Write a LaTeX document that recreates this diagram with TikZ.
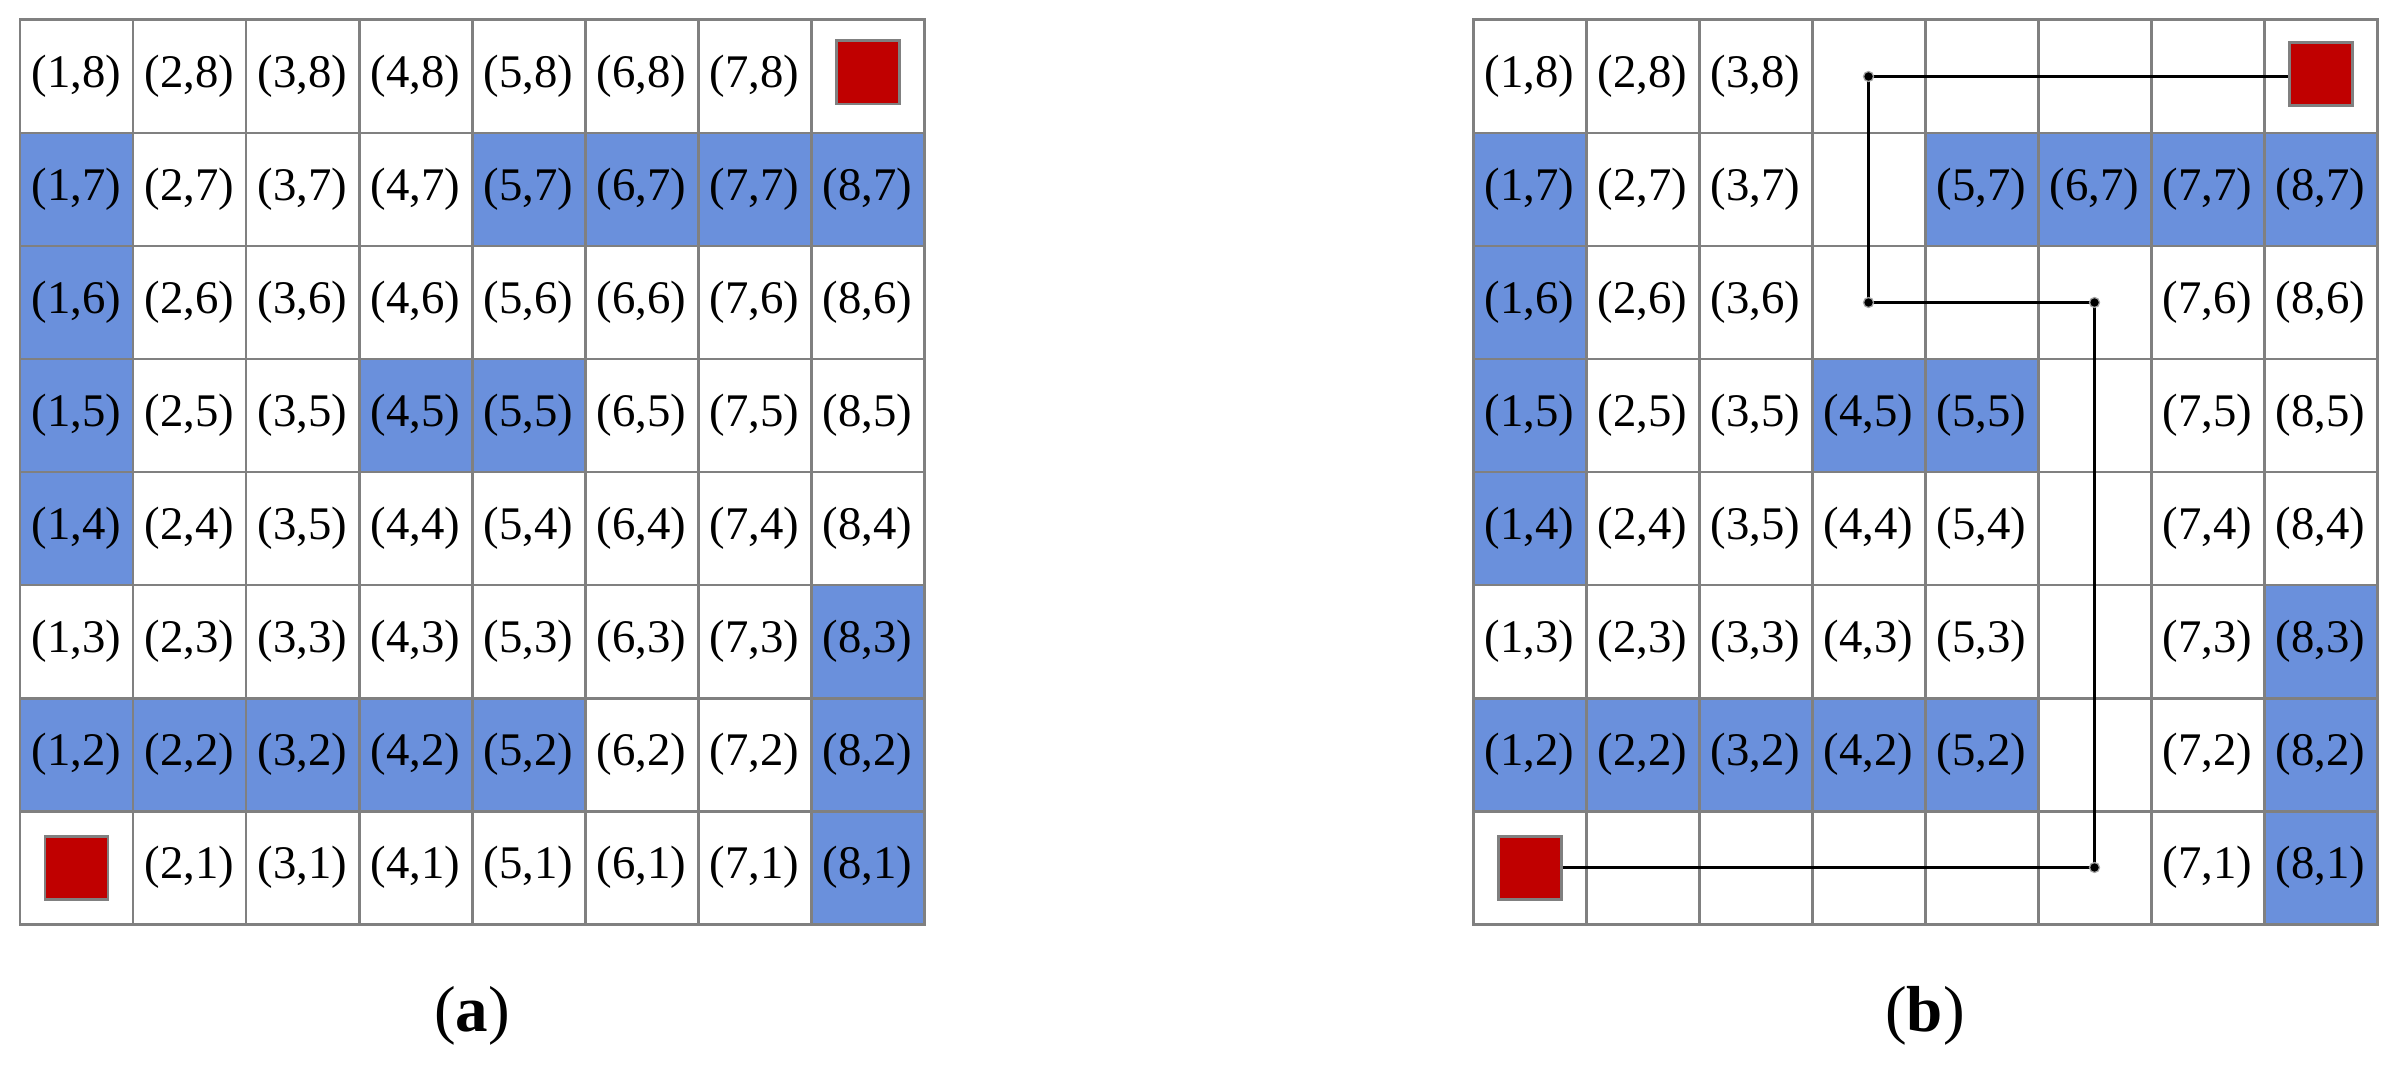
\documentclass[tikz,border=0pt]{standalone}
\usepackage{fontspec}
\setmainfont{Liberation Serif}
\definecolor{cellblue}{RGB}{106,144,220}
\definecolor{gridgray}{RGB}{128,128,128}
\definecolor{goalred}{RGB}{192,0,0}
\tikzset{
  cellbase/.style={draw=gridgray, line width=0.85pt, minimum size=1.13cm, inner sep=0pt, font=\fontsize{13.3}{15}\selectfont},
  cell-w/.style={cellbase, fill=white},
  cell-t/.style={cellbase, fill=white},
  cell-e/.style={cellbase, fill=white},
  cell-r/.style={cellbase, fill=white},
  cell-b/.style={cellbase, fill=cellblue},
  goal/.style={draw=gridgray, fill=goalred, line width=0.85pt, minimum size=0.63cm, inner sep=0pt},
  pathline/.style={black, line width=0.95pt},
  turn/.style={circle, fill=black, draw=gray!70, line width=0.35pt, minimum size=0.1cm, inner sep=0pt},
  caption/.style={font=\fontsize{18.5}{22}\selectfont}
}
\newcommand\gridrow[3]{%
  \def\txtw{(\ci,#2)}\def\txtb{(\ci,#2)}\def\txtt{(3,5)}\def\txte{}\def\txtr{}%
  \foreach \cc [count=\ci] in {#3} {%
    \node[cell-\cc] (#1-\ci-#2) at ({(\ci-0.5)*1.13},{(#2-0.5)*1.13}) {\csname txt\cc\endcsname};
  }%
}
\begin{document}
\begin{tikzpicture}
\useasboundingbox (0,0) rectangle (23.94,10.73);
% ---------- (a) ----------
\begin{scope}[shift={(0.20,1.49)}]
  \gridrow{a}{8}{w,w,w,w,w,w,w,r}
  \gridrow{a}{7}{b,w,w,w,b,b,b,b}
  \gridrow{a}{6}{b,w,w,w,w,w,w,w}
  \gridrow{a}{5}{b,w,w,b,b,w,w,w}
  \gridrow{a}{4}{b,w,t,w,w,w,w,w}
  \gridrow{a}{3}{w,w,w,w,w,w,w,b}
  \gridrow{a}{2}{b,b,b,b,b,w,w,b}
  \gridrow{a}{1}{r,w,w,w,w,w,w,b}
\end{scope}
\node[goal] (a-start) at (a-1-1) {};
\node[goal] (a-goal) at ([yshift=0.04cm]a-8-8.center) {};
\node[caption] (cap-a) at (4.72,0.57) {(\textbf{a})};
% ---------- (b) ----------
\begin{scope}[shift={(14.73,1.49)}]
  \gridrow{b}{8}{w,w,w,e,e,e,e,r}
  \gridrow{b}{7}{b,w,w,e,b,b,b,b}
  \gridrow{b}{6}{b,w,w,e,e,e,w,w}
  \gridrow{b}{5}{b,w,w,b,b,e,w,w}
  \gridrow{b}{4}{b,w,t,w,w,e,w,w}
  \gridrow{b}{3}{w,w,w,w,w,e,w,b}
  \gridrow{b}{2}{b,b,b,b,b,e,w,b}
  \gridrow{b}{1}{r,e,e,e,e,e,w,b}
\end{scope}
\node[goal] (b-start) at (b-1-1) {};
\node[goal] (b-goal) at ([yshift=0.02cm]b-8-8.center) {};
\draw[pathline] (b-start.east) -- (b-6-1.center) -- (b-6-6.center) -- (b-4-6.center) -- (b-4-8.center) -- (b-goal.west |- b-4-8.center);
\node[turn] (t1) at (b-6-1) {};
\node[turn] (t2) at (b-6-6) {};
\node[turn] (t3) at (b-4-6) {};
\node[turn] (t4) at (b-4-8) {};
\node[caption] (cap-b) at (19.25,0.57) {(\textbf{b})};
\end{tikzpicture}
\end{document}
